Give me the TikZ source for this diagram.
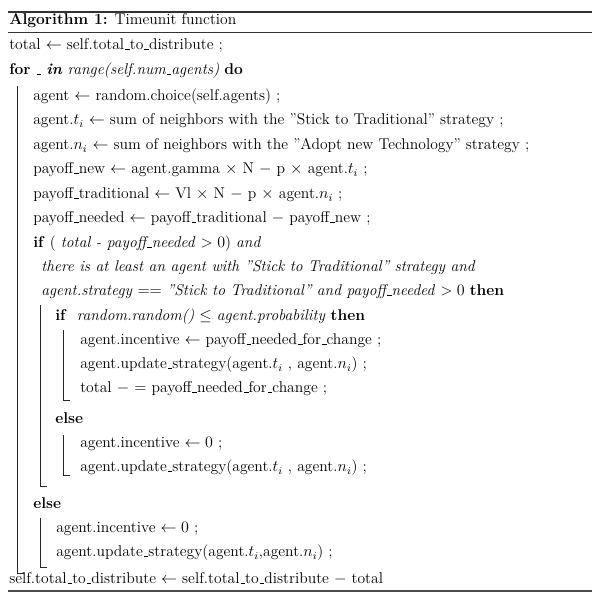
\documentclass[tikz,border=0pt]{standalone}
\usepackage{amsmath}
\usepackage{amssymb}
\usetikzlibrary{calc}
\newcommand{\us}{\leavevmode\kern.06em\vbox{\hrule width.3em}}

\begin{document}
\begin{tikzpicture}[x=0.75pt,y=-0.75pt]
  \tikzstyle{every node}=[anchor=mid west,inner sep=0pt,font=\fontsize{11.7}{14}\selectfont];
  \tikzstyle{algobar}=[line width=0.5pt,black!85];
  \useasboundingbox (0,0) rectangle (600,610);
  % rules of the float
  \draw[line width=0.9pt,black!80] (8,12) -- (592,12);
  \draw[line width=0.5pt,black!80] (8,32) -- (592,32);
  \draw[line width=0.9pt,black!70] (8,591) -- (592,591);
  \node (caption) at (9,22) {\textbf{Algorithm 1:} Timeunit function};
  \foreach \name/\x/\y/\txt in {
    total/9/47/{total $\leftarrow$ self.total\us to\us distribute ;},
    for/9/72/{\textbf{for} \us\ \textbf{\textit{in}} \textit{range(self.num\us agents)} \textbf{do}},
    choice/33/98/{agent $\leftarrow$ random.choice(self.agents) ;},
    ti/33/122/{agent.$t_i$ $\leftarrow$ sum of neighbors with the ''Stick to Traditional'' strategy ;},
    ni/33/147/{agent.$n_i$ $\leftarrow$ sum of neighbors with the ''Adopt new Technology'' strategy ;},
    new/33/171/{payoff\us new $\leftarrow$ agent.gamma $\times$ N $-$ p $\times$ agent.$t_i$ ;},
    trad/33/196/{payoff\us traditional $\leftarrow$ Vl $\times$ N $-$ p $\times$ agent.$n_i$ ;},
    needed/33/220/{payoff\us needed $\leftarrow$ payoff\us traditional $-$ payoff\us new ;},
    ifa/33/245/{\textbf{if} ( \textit{total - payoff\us needed} $> 0$) \textit{and}},
    ifb/41/269/{\textit{there is at least an agent with ''Stick to Traditional'' strategy and}},
    ifc/41/293/{\textit{agent.strategy} $==$ \textit{''Stick to Traditional'' and payoff\us needed} $> 0$ \textbf{then}},
    rand/55/318/{\textbf{if}\ \ \textit{random.random()} $\leq$ \textit{agent.probability} \textbf{then}},
    incA/80/342/{agent.incentive $\leftarrow$ payoff\us needed\us for\us change ;},
    updA/80/366/{agent.update\us strategy(agent.$t_i$ , agent.$n_i$) ;},
    minus/80/390/{total $-$ $=$ payoff\us needed\us for\us change ;},
    elseA/55/421/{\textbf{else}},
    incB/80/445/{agent.incentive $\leftarrow 0$ ;},
    updB/80/469/{agent.update\us strategy(agent.$t_i$ , agent.$n_i$) ;},
    elseB/33/506/{\textbf{else}},
    incC/56/530/{agent.incentive $\leftarrow 0$ ;},
    updC/56/554/{agent.update\us strategy(agent.$t_i$,agent.$n_i$) ;},
    last/9/581/{self.total\us to\us distribute $\leftarrow$ self.total\us to\us distribute $-$ total}}{
    \node (\name) at (\x,\y) {\txt};
  }
  % block bars
  \foreach \x/\ya/\yb in {17/86/573,40/305/486,63/330/400,63/435/475,40/518/567}{
    \draw[algobar] (\x,\ya) -- (\x,\yb) -- ++(7,0);
  }
\end{tikzpicture}
\end{document}
